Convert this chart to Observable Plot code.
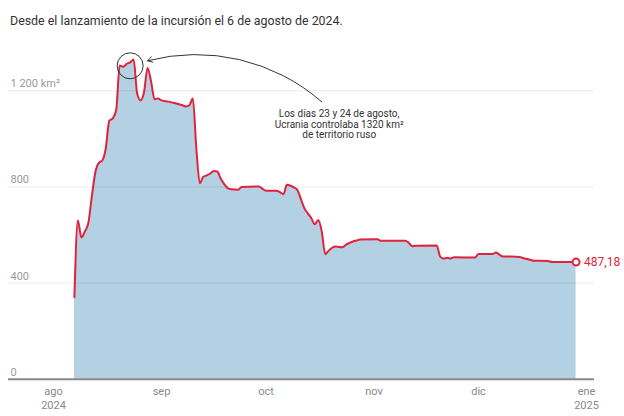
<!DOCTYPE html>
<html>
<head>
<meta charset="utf-8">
<script src="https://cdn.jsdelivr.net/npm/d3@7"></script>
<script src="https://cdn.jsdelivr.net/npm/@observablehq/plot@0.6"></script>
<style>
  body { margin: 0; background: #fff; font-family: Roboto, "Noto Sans", sans-serif; }
  #sub { height: 36px; box-sizing: border-box; padding: 13px 0 0 10px; font-size: 12.4px; line-height: 15px; color: #333; }
  #chart svg { display: block; overflow: visible; }
</style>
</head>
<body>
<div id="sub">Desde el lanzamiento de la incursión el 6 de agosto de 2024.</div>
<div id="chart"></div>
<script>
const fechas = [
  "2024-08-07","2024-08-08","2024-08-09","2024-08-10","2024-08-11","2024-08-12","2024-08-13","2024-08-14",
  "2024-08-15","2024-08-16","2024-08-17","2024-08-18","2024-08-19","2024-08-20","2024-08-21","2024-08-22",
  "2024-08-23","2024-08-24","2024-08-25","2024-08-26","2024-08-27","2024-08-28","2024-08-29","2024-08-30",
  "2024-08-31","2024-09-01","2024-09-03","2024-09-05","2024-09-07","2024-09-08","2024-09-09","2024-09-10",
  "2024-09-11","2024-09-12","2024-09-13","2024-09-14","2024-09-15","2024-09-16","2024-09-17","2024-09-18",
  "2024-09-19","2024-09-20","2024-09-21","2024-09-23","2024-09-24","2024-09-29","2024-09-30","2024-10-01",
  "2024-10-04","2024-10-05","2024-10-06","2024-10-07","2024-10-08","2024-10-09","2024-10-10","2024-10-11",
  "2024-10-12","2024-10-13","2024-10-14","2024-10-15","2024-10-16","2024-10-17","2024-10-18","2024-10-19",
  "2024-10-20","2024-10-21","2024-10-23","2024-10-24","2024-10-25","2024-10-26","2024-10-27","2024-10-28",
  "2024-11-02","2024-11-03","2024-11-10","2024-11-11","2024-11-12","2024-11-13","2024-11-19","2024-11-20",
  "2024-11-21","2024-11-22","2024-11-23","2024-11-24","2024-11-30","2024-12-01","2024-12-05","2024-12-06",
  "2024-12-07","2024-12-08","2024-12-12","2024-12-13","2024-12-14","2024-12-15","2024-12-16","2024-12-17",
  "2024-12-21","2024-12-22","2024-12-29"
];
const km2 = [
  341, 660, 590, 615, 650, 760, 860, 900,
  910, 960, 1075, 1085, 1120, 1305, 1300, 1312,
  1318, 1330, 1190, 1160, 1195, 1295, 1240, 1165,
  1168, 1160, 1155, 1148, 1140, 1135, 1140, 1168,
  960, 815, 842, 848, 856, 866, 864, 835,
  812, 795, 790, 788, 800, 802, 792, 784,
  784, 778, 770, 809, 805, 798, 787, 750,
  712, 690, 670, 645, 662, 615, 520, 535,
  547, 552, 549, 560, 567, 573, 577, 581,
  582, 576, 576, 567, 553, 555, 556, 510,
  502, 505, 502, 507, 506, 521, 521, 527,
  518, 511, 510, 508, 503, 500, 496, 493,
  492, 487.5, 487.18
];
const yTicks = [0, 400, 800, 1200];
const yTickLabels = ["0", "400", "800", "1 200 km²"];
const xTicks = ["2024-08-01","2024-09-01","2024-10-01","2024-11-01","2024-12-01","2025-01-01"];
const xTickLabels = ["ago\n2024", "sep", "oct", "nov", "dic", "ene\n2025"];

// annotation
const notaTexto = "Los días 23 y 24 de agosto,\nUcrania controlaba 1320 km²\nde territorio ruso";
const notaPos = {fecha: "2024-10-22", valor: 1061};
const circuloPos = {fecha: "2024-08-23", valor: 1304};
const flecha = {desde: "2024-10-17", desdeValor: 1154, hasta: "2024-08-28", hastaValor: 1325};

const rojo = "#e2223c";
const parse = s => new Date(s + "T00:00:00Z");
const data = fechas.map((f, i) => ({fecha: parse(f), valor: km2[i]}));
const last = data[data.length - 1];
const xT = xTicks.map(parse);

const plot = Plot.plot({
  width: 624,
  height: 380,
  marginLeft: 8,
  marginRight: 30,
  marginTop: 54.3,
  marginBottom: 37.3,
  style: {fontFamily: "Roboto, sans-serif", overflow: "visible"},
  x: {type: "utc", domain: [new Date("2024-07-19T02:00:00Z"), new Date("2025-01-03T07:00:00Z")]},
  y: {domain: [0, 1200], axis: null},
  marks: [
    Plot.areaY(data, {x: "fecha", y: "valor", fill: "#b3d1e3", curve: "monotone-x"}),
    Plot.ruleY(yTicks.filter(d => d > 0), {stroke: "#000", strokeOpacity: 0.08, strokeWidth: 1}),
    Plot.ruleY([0], {stroke: "#888", strokeWidth: 2}),
    Plot.text(yTicks, {y: d => d, frameAnchor: "left", textAnchor: "start", dx: 2, dy: -7,
      text: (d, i) => yTickLabels[i], fill: "#9a9a9a", fontSize: 11}),
    Plot.axisX(xT, {tickSize: 0, tickPadding: 6, tickFormat: (d, i) => xTickLabels[i],
      fill: "#8a8a8a", fontSize: 11, lineHeight: 1.25, label: null}),
    Plot.lineY(data, {x: "fecha", y: "valor", stroke: rojo, strokeWidth: 2, curve: "monotone-x"}),
    Plot.dot([last], {x: "fecha", y: "valor", r: 3.5, fill: "white", stroke: rojo, strokeWidth: 2}),
    Plot.text([last], {x: "fecha", y: "valor", text: d => String(d.valor).replace(".", ","),
      dx: 8, textAnchor: "start", fill: rojo, fontSize: 12}),
    Plot.dot([circuloPos], {x: d => parse(d.fecha), y: "valor", r: 13, stroke: "#333", strokeWidth: 1, fill: "none"}),
    Plot.arrow([flecha], {x1: d => parse(d.desde), y1: "desdeValor", x2: d => parse(d.hasta), y2: "hastaValor",
      bend: -28, stroke: "#333", strokeWidth: 1, headLength: 8}),
    Plot.text([notaPos], {x: d => parse(d.fecha), y: "valor", text: () => notaTexto, fill: "#333",
      fontSize: 10, lineHeight: 1.05, textAnchor: "middle"})
  ]
});
document.getElementById("chart").appendChild(plot);
</script>
</body>
</html>
